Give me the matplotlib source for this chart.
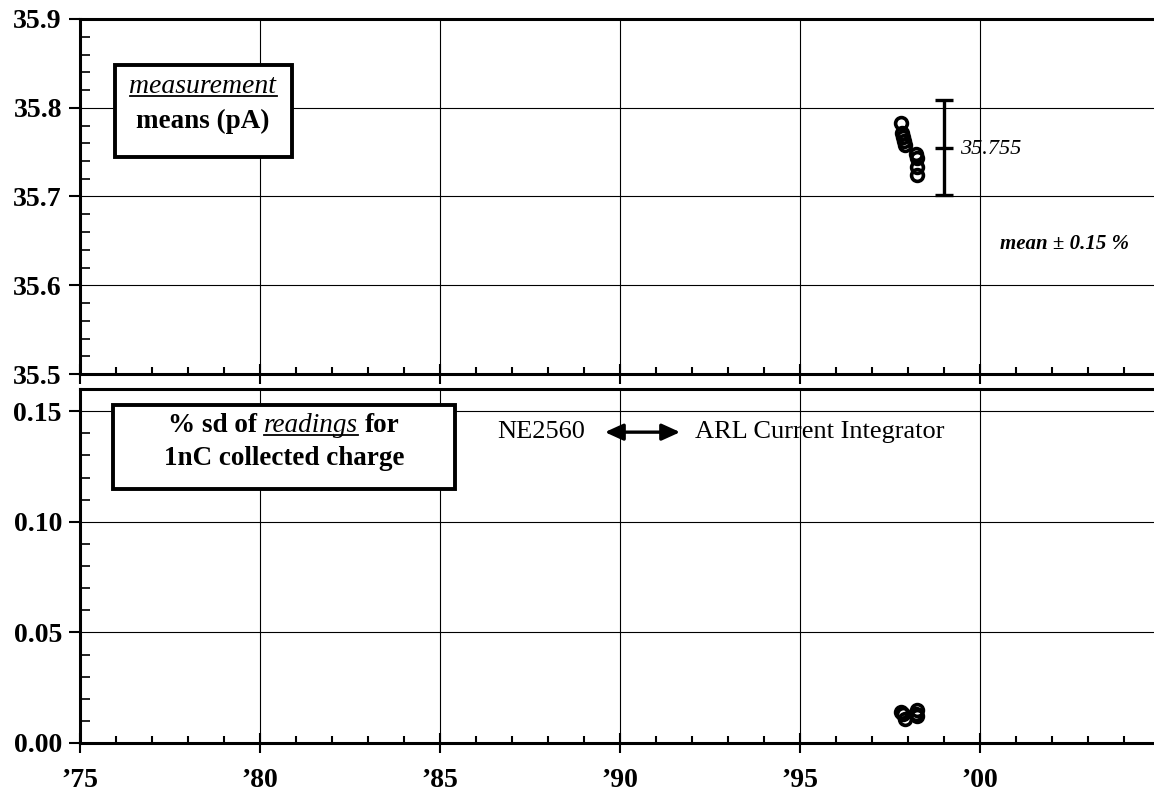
import matplotlib
matplotlib.use("Agg")
import matplotlib.pyplot as plt
from matplotlib.patches import Rectangle
from matplotlib.lines import Line2D
from matplotlib.ticker import MultipleLocator, FixedLocator, FuncFormatter

plt.rcParams['font.family'] = ['Liberation Serif', 'DejaVu Serif']

# measurement means (pA), late 1997 / early 1998
mean_years = [1997.80, 1997.83, 1997.86, 1997.88, 1997.92, 1998.22, 1998.25, 1998.26, 1998.25]
mean_values = [35.783, 35.772, 35.767, 35.762, 35.758, 35.748, 35.743, 35.733, 35.724]

# % sd of readings for 1nC collected charge
sd_years = [1997.80, 1997.85, 1997.92, 1998.22, 1998.25, 1998.25]
sd_values = [0.014, 0.013, 0.011, 0.013, 0.015, 0.012]

overall_mean = 35.755
band_pct = 0.15

year_ticks = [1975, 1980, 1985, 1990, 1995, 2000]
year_labels = ["\u201975", "\u201980", "\u201985", "\u201990", "\u201995", "\u201900"]

W, H = 1154, 796
fig = plt.figure(figsize=(W / 100, H / 100), dpi=100)
fig.patch.set_facecolor('white')

ax1 = fig.add_axes([80 / W, 1 - 374 / H, (1160 - 80) / W, (374 - 19) / H])
ax2 = fig.add_axes([80 / W, 1 - 743 / H, (1160 - 80) / W, (743 - 389) / H])


def style_axes(ax, yticks, fmt, yminor, ylim):
    ax.set_xlim(1975, 2005)
    ax.set_ylim(*ylim)
    ax.xaxis.set_major_locator(FixedLocator(year_ticks))
    ax.xaxis.set_minor_locator(MultipleLocator(1))
    ax.yaxis.set_major_locator(FixedLocator(yticks))
    ax.yaxis.set_minor_locator(MultipleLocator(yminor))
    ax.yaxis.set_major_formatter(FuncFormatter(lambda v, p: fmt % v))
    ax.tick_params(axis='x', which='major', direction='inout', length=14, width=1.5, top=False)
    ax.tick_params(axis='x', which='minor', direction='in', length=5, width=1.5, top=False)
    ax.tick_params(axis='y', which='major', direction='out', length=8, width=1.5, right=False,
                   labelsize=20, pad=5)
    ax.tick_params(axis='y', which='minor', direction='in', length=7, width=1.2, right=False)
    ax.grid(which='major', color='black', lw=0.8)
    ax.set_axisbelow(True)
    for s in ['top', 'left', 'bottom']:
        ax.spines[s].set_linewidth(2.2)
    ax.spines['right'].set_visible(False)
    for lab in ax.get_yticklabels():
        lab.set_fontweight('bold')


style_axes(ax1, [35.5, 35.6, 35.7, 35.8, 35.9], '%.1f', 0.02, (35.5, 35.9))
style_axes(ax2, [0.0, 0.05, 0.10, 0.15], '%.2f', 0.01, (0.0, 0.16))

ax1.set_xticklabels([])
ax2.set_xticklabels(year_labels, fontsize=20, fontweight='bold')
ax2.tick_params(axis='x', which='major', pad=11)

# data points
ax1.plot(mean_years, mean_values, 'o', mfc='none', mec='black', ms=8.5, mew=2.6, zorder=4)
ax2.plot(sd_years, sd_values, 'o', mfc='none', mec='black', ms=8.5, mew=2.6, zorder=4)

# mean +/- 0.15 % bar
half = overall_mean * band_pct / 100
ax1.errorbar([1999.0], [overall_mean], yerr=[half], fmt='_', color='black', ms=13, mew=2.4,
             elinewidth=2.4, capsize=6.5, capthick=2.2, zorder=4)
ax1.text(1999.45, overall_mean - 0.002, "%.3f" % overall_mean, fontsize=16, style='italic',
         va='center', ha='left')
ax1.text(2000.56, 35.647, "mean \u00b1 %.2f %%" % band_pct, fontsize=15, style='italic',
         weight='bold', va='center', ha='left')

# instrument change annotation
ax2.text(1986.58, 0.1405, "NE2560", fontsize=19, va='center', ha='left')
ax2.annotate("", xy=(1991.67, 0.1405), xytext=(1989.58, 0.1405),
             arrowprops=dict(arrowstyle='<|-|>,head_length=1.1,head_width=0.5',
                             color='black', lw=2.4, shrinkA=0, shrinkB=0))
ax2.text(1992.08, 0.1405, "ARL Current Integrator", fontsize=19, va='center', ha='left')


def box(x0, y0, x1, y1):
    fig.add_artist(Rectangle((x0 / W, 1 - y1 / H), (x1 - x0) / W, (y1 - y0) / H,
                             transform=fig.transFigure, facecolor='white',
                             edgecolor='black', lw=2.8, zorder=4))


renderer = fig.canvas.get_renderer()


def rich_line(pieces, cx, base_y, size=19.5):
    arts = []
    for txt, st, wt, ul in pieces:
        t = fig.text(0, 0, txt, fontsize=size, style=st, weight=wt,
                     va='baseline', ha='left', zorder=6)
        arts.append((t, t.get_window_extent(renderer).width, ul))
    gap = size * 0.25 * 100 / 72
    total = sum(w for _, w, _ in arts) + gap * (len(arts) - 1)
    x = cx - total / 2
    for t, w, ul in arts:
        t.set_position((x / W, 1 - base_y / H))
        if ul:
            fig.add_artist(Line2D([x / W, (x + w) / W], [1 - (base_y + 3) / H] * 2,
                                  color='black', lw=1.3, zorder=6))
        x += w + gap


box(115, 65, 292, 157)
rich_line([("measurement", 'italic', 'normal', True)], 203, 93, 20)
rich_line([("means (pA)", 'normal', 'bold', False)], 203, 128)

box(113, 405, 455, 489)
rich_line([("% sd of", 'normal', 'bold', False),
           ("readings", 'italic', 'normal', True),
           ("for", 'normal', 'bold', False)], 284, 432)
rich_line([("1nC collected charge", 'normal', 'bold', False)], 284, 465)

fig.savefig("out.png", dpi=100, facecolor='white')
